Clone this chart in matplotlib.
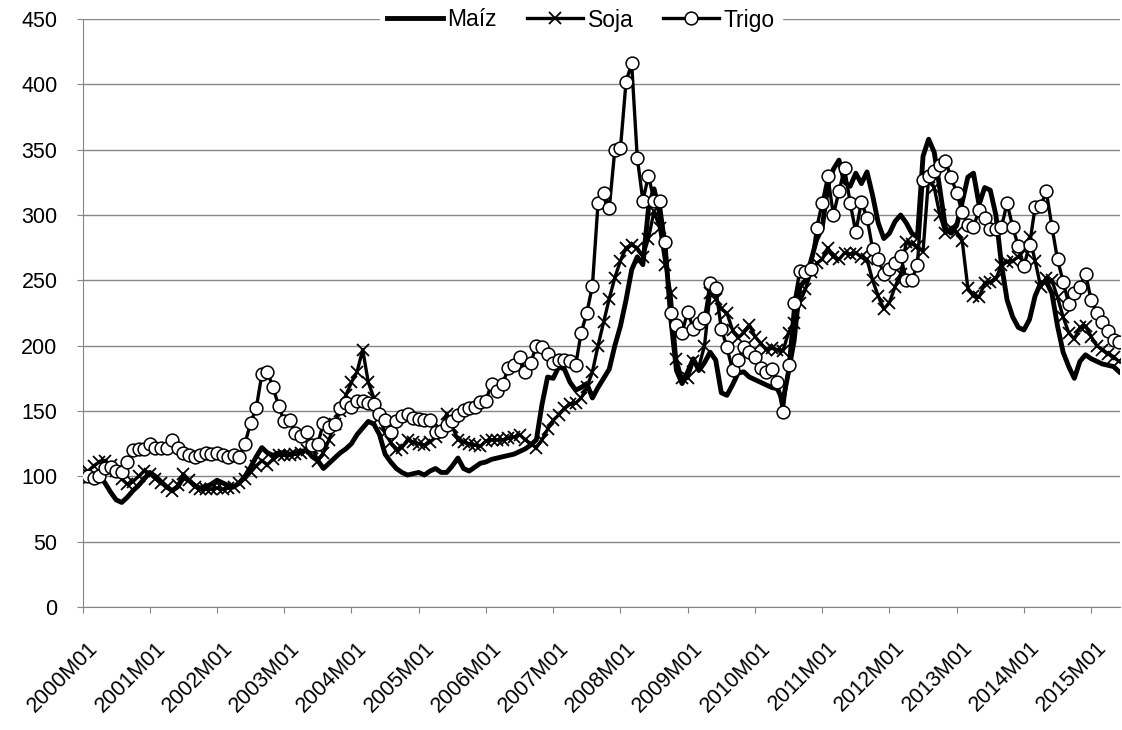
import matplotlib
matplotlib.use("Agg")
import matplotlib.pyplot as plt
import matplotlib.transforms as mtransforms

plt.rcParams['font.family'] = ['Liberation Sans', 'DejaVu Sans']

# indices mensuales 2000M01 = 100 (2000M01 .. 2015M06)
years = list(range(2000, 2016))
periodos = ["%dM%02d" % (y, m) for y in years for m in range(1, 13)][:186]

maiz = [
    100, 99, 96, 100, 95, 88, 82, 80, 84, 89, 93, 98,
    103, 100, 96, 92, 89, 92, 99, 97, 93, 91, 92, 94,
    97, 95, 93, 92, 95, 100, 107, 115, 122, 118, 116, 118,
    118, 117, 118, 119, 120, 115, 112, 106, 110, 114, 118, 121,
    125, 132, 137, 142, 140, 132, 117, 111, 106, 103, 101, 102,
    103, 101, 104, 106, 103, 103, 108, 114, 106, 104, 107, 110,
    111, 113, 114, 115, 116, 117, 119, 121, 124, 128, 155, 176,
    175, 184, 182, 172, 166, 168, 171, 160, 168, 175, 182, 200,
    215, 235, 258, 268, 262, 305, 320, 301, 275, 220, 181, 171,
    180, 190, 181, 187, 195, 189, 164, 162, 170, 179, 180, 176,
    174, 172, 170, 168, 167, 158, 180, 204, 245, 250, 265, 281,
    290, 322, 335, 342, 325, 322, 332, 324, 333, 315, 294, 282,
    286, 295, 300, 294, 286, 283, 345, 358, 348, 320, 290, 286,
    292, 310, 329, 332, 308, 321, 319, 300, 262, 235, 222, 214,
    212, 220, 238, 248, 249, 240, 215, 195, 184, 175, 188, 193,
    190, 188, 186, 185, 184, 180,
]

soja = [
    100, 104, 108, 111, 112, 109, 104, 98, 94, 96, 100, 104,
    102, 98, 95, 92, 89, 93, 102, 97, 92, 90, 90, 90,
    91, 90, 91, 92, 95, 98, 103, 108, 112, 109, 113, 116,
    116, 116, 117, 118, 120, 122, 112, 118, 128, 140, 150, 162,
    172, 180, 197, 172, 160, 145, 133, 126, 120, 122, 128, 126,
    125, 124, 126, 130, 136, 148, 138, 128, 126, 125, 124, 123,
    127, 128, 128, 128, 129, 130, 132, 128, 125, 122, 128, 136,
    143, 147, 152, 155, 156, 160, 168, 180, 200, 218, 236, 252,
    265, 275, 277, 275, 268, 282, 303, 290, 262, 240, 190, 175,
    175, 188, 184, 200, 240, 236, 228, 225, 212, 206, 210, 216,
    207, 202, 197, 198, 197, 196, 210, 217, 233, 243, 256, 263,
    266, 275, 268, 266, 271, 270, 271, 268, 266, 250, 238, 228,
    233, 245, 255, 279, 278, 276, 272, 329, 321, 300, 286, 290,
    287, 280, 244, 238, 237, 248, 249, 251, 262, 264, 265, 268,
    273, 283, 265, 245, 252, 250, 237, 222, 210, 205, 214, 215,
    207, 200, 197, 194, 191, 188,
]

trigo = [
    100, 100, 99, 100, 106, 107, 104, 103, 111, 120, 121, 121,
    125, 122, 122, 122, 128, 122, 118, 116, 115, 116, 118, 117,
    118, 116, 115, 116, 115, 125, 141, 152, 178, 180, 168, 154,
    142, 143, 133, 131, 134, 124, 125, 141, 138, 140, 152, 156,
    153, 158, 158, 156, 155, 148, 143, 134, 142, 146, 148, 145,
    144, 143, 143, 134, 135, 139, 142, 147, 151, 152, 153, 157,
    158, 171, 165, 171, 183, 185, 191, 180, 187, 200, 199, 194,
    187, 189, 189, 188, 185, 210, 225, 246, 309, 317, 305, 350,
    351, 402, 416, 344, 311, 330, 311, 311, 279, 225, 216, 210,
    226, 213, 217, 221, 248, 244, 213, 199, 181, 189, 199, 195,
    191, 183, 180, 182, 172, 149, 185, 233, 257, 256, 259, 290,
    309, 330, 300, 318, 336, 309, 287, 310, 298, 274, 266, 255,
    259, 263, 269, 250, 250, 262, 327, 330, 334, 338, 341, 329,
    317, 302, 292, 291, 304, 298, 289, 289, 291, 309, 291, 276,
    261, 277, 306, 307, 318, 291, 266, 249, 232, 240, 245, 255,
    235, 225, 218, 211, 204, 203,
]

x = list(range(len(periodos)))
gris = '#868686'

fig = plt.figure(figsize=(11.22, 7.30), dpi=100)
ax = fig.add_axes([82.5 / 1122, 1 - 607 / 730, (1120 - 82.5) / 1122, (607 - 19) / 730])

ax.plot(x, maiz, color='black', lw=3.5, label='Maíz', zorder=3)
ax.plot(x, soja, color='black', lw=2.4, marker='x', ms=8.5, mew=1.3, label='Soja', zorder=4)
ax.plot(x, trigo, color='black', lw=2.4, marker='o', ms=9.2, mfc='white', mec='black',
        mew=1.1, label='Trigo', zorder=5)

ax.set_xlim(0, len(periodos) - 0.85)
ax.set_ylim(0, 450)
ax.set_yticks(range(0, 451, 50))
ax.set_xticks(x[::12])
ax.set_xticklabels(periodos[::12], rotation=45, ha='right', va='top', rotation_mode='anchor')

ax.grid(axis='y', color=gris, lw=1)
ax.set_axisbelow(True)
for s in ['top', 'right']:
    ax.spines[s].set_visible(False)
for s in ['left', 'bottom']:
    ax.spines[s].set_color(gris)
ax.tick_params(axis='both', colors=gris, labelcolor='black', labelsize=15.5, length=4)
ax.tick_params(axis='y', pad=14)
ax.tick_params(axis='x', pad=18)

# las etiquetas de Excel quedan un poco a la derecha de la marca
desplaza = mtransforms.ScaledTranslation(5 / 100, 0, fig.dpi_scale_trans)
for lab in ax.get_xticklabels():
    lab.set_transform(lab.get_transform() + desplaza)

leg = ax.legend(loc='center left', bbox_to_anchor=(380 / 1122, 1 - 20 / 730),
                bbox_transform=fig.transFigure, ncol=3, frameon=True,
                fontsize=16.5, handlelength=2.45, columnspacing=1.3, handletextpad=0.2,
                borderpad=0.3, borderaxespad=0, fancybox=False)
leg.get_frame().set_edgecolor('white')
leg.get_frame().set_facecolor('white')
leg.get_frame().set_alpha(1)

fig.savefig('out.png', dpi=100)
